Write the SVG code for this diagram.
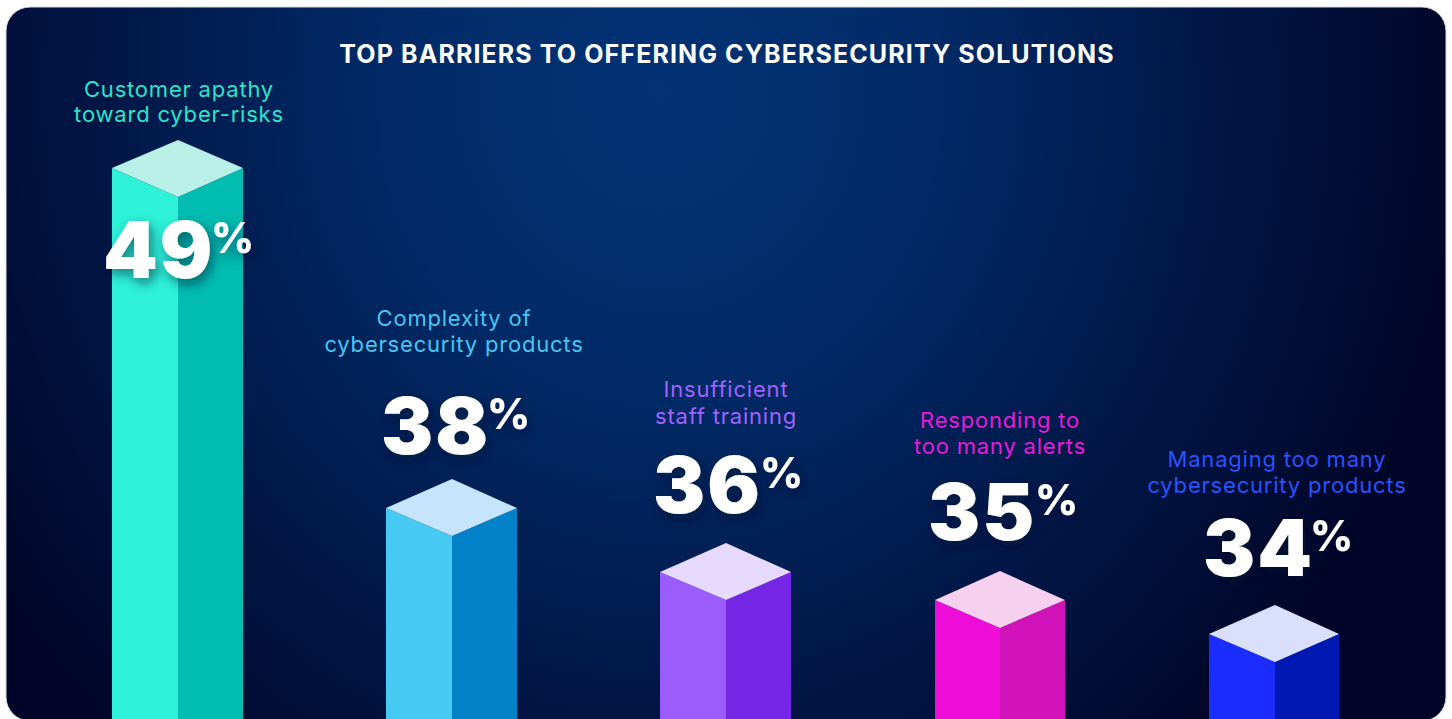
<svg xmlns="http://www.w3.org/2000/svg" width="1452" height="719" viewBox="0 0 1452 719">
<defs>
<radialGradient id="bg" gradientUnits="userSpaceOnUse" cx="660" cy="90" r="800" gradientTransform="translate(660 90) scale(1 1.1) translate(-660 -90)">
<stop offset="0" stop-color="#023376"/>
<stop offset="0.35" stop-color="#012a66"/>
<stop offset="0.7" stop-color="#011646"/>
<stop offset="1" stop-color="#000628"/>
</radialGradient>
<clipPath id="card"><rect x="6" y="7" width="1440" height="712" rx="24"/></clipPath>
<filter id="sh" x="-30%" y="-30%" width="160%" height="170%">
<feDropShadow dx="3" dy="5" stdDeviation="6" flood-color="#000a30" flood-opacity="0.55"/>
</filter>
</defs>
<style>
.title{font-family:Inter,"Liberation Sans",sans-serif;font-weight:700;font-size:25px;fill:#ffffff;text-anchor:middle;letter-spacing:1.1px}
.lbl{font-family:Inter,"Liberation Sans",sans-serif;font-weight:400;font-size:22px;text-anchor:middle;letter-spacing:0.8px}
.num{font-family:Inter,"Liberation Sans",sans-serif;font-weight:900;font-size:78px;fill:#ffffff;letter-spacing:2px}
.pct{font-family:Inter,"Liberation Sans",sans-serif;font-weight:800;font-size:42px;fill:#ffffff}
</style>
<rect x="0" y="0" width="1452" height="719" fill="#ffffff"/>
<rect x="6" y="7" width="1440" height="714" rx="24" fill="url(#bg)" stroke="#d4d8e0" stroke-width="1"/>
<text class="title" x="727" y="63">TOP BARRIERS TO OFFERING CYBERSECURITY SOLUTIONS</text>
<g clip-path="url(#card)">
<g id="bar1">
<polygon points="112,168 178,197 178,719 112,719" fill="#2df2d9"/>
<polygon points="178,197 243,168 243,719 178,719" fill="#00bcb1"/>
<polygon points="178,140 243,168 178,197 112,168" fill="#b8efe7"/>
<text class="lbl" x="179" y="97" fill="#2ee3c9">Customer apathy</text>
<text class="lbl" x="179" y="122" fill="#2ee3c9">toward cyber-risks</text>
<g filter="url(#sh)"><text class="num" x="103" y="278">49</text><text class="pct" x="211" y="253">%</text></g>
</g>
<g id="bar2">
<polygon points="386,508 452,536 452,719 386,719" fill="#46c9f3"/>
<polygon points="452,536 517,508 517,719 452,719" fill="#0381c9"/>
<polygon points="452,479 517,508 452,536 386,508" fill="#c6e4fc"/>
<text class="lbl" x="454" y="326" fill="#4ac5f1">Complexity of</text>
<text class="lbl" x="454" y="352" fill="#4ac5f1">cybersecurity products</text>
<g filter="url(#sh)"><text class="num" x="381" y="454">38</text><text class="pct" x="487" y="429">%</text></g>
</g>
<g id="bar3">
<polygon points="660,572 726,600 726,719 660,719" fill="#9b5cfe"/>
<polygon points="726,600 791,572 791,719 726,719" fill="#7526e7"/>
<polygon points="726,543 791,572 726,600 660,572" fill="#e8dafc"/>
<text class="lbl" x="726" y="397" fill="#a262fb">Insufficient</text>
<text class="lbl" x="726" y="424" fill="#a262fb">staff training</text>
<g filter="url(#sh)"><text class="num" x="653" y="513">36</text><text class="pct" x="760" y="488">%</text></g>
</g>
<g id="bar4">
<polygon points="935,600 1000,628 1000,719 935,719" fill="#ee0cd9"/>
<polygon points="1000,628 1065,600 1065,719 1000,719" fill="#d112b8"/>
<polygon points="1000,571 1065,600 1000,628 935,600" fill="#f6d0ef"/>
<text class="lbl" x="1000" y="428" fill="#e81bd8">Responding to</text>
<text class="lbl" x="1000" y="454" fill="#e81bd8">too many alerts</text>
<g filter="url(#sh)"><text class="num" x="928" y="540">35</text><text class="pct" x="1035" y="515">%</text></g>
</g>
<g id="bar5">
<polygon points="1209,634 1275,662 1275,719 1209,719" fill="#1a2dfe"/>
<polygon points="1275,662 1339,634 1339,719 1275,719" fill="#0019b2"/>
<polygon points="1275,605 1339,634 1275,662 1209,634" fill="#dadffc"/>
<text class="lbl" x="1277" y="467" fill="#2b52ff">Managing too many</text>
<text class="lbl" x="1277" y="493" fill="#2b52ff">cybersecurity products</text>
<g filter="url(#sh)"><text class="num" x="1203" y="576">34</text><text class="pct" x="1310" y="551">%</text></g>
</g>
</g>
</svg>
